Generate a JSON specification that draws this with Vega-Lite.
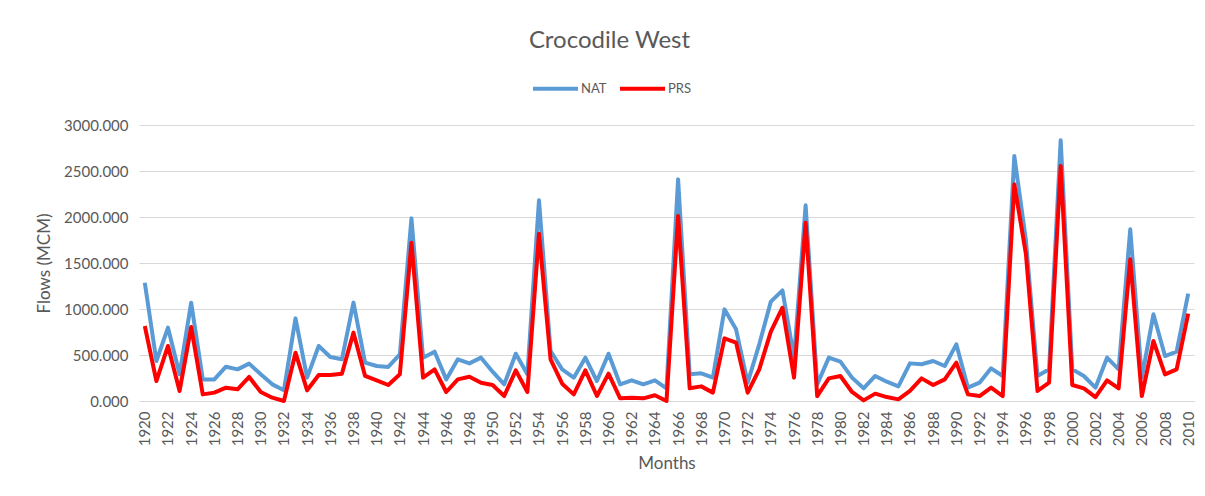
{
  "$schema": "https://vega.github.io/schema/vega-lite/v6.json",
  "width": 1055,
  "height": 276,
  "autosize": "none",
  "padding": {"left": 139, "top": 125, "right": 11, "bottom": 95},
  "background": "white",
  "config": {
    "font": "Lato",
    "view": {"stroke": null}
  },
  "title": {
    "text": "Crocodile West",
    "fontSize": 24,
    "fontWeight": "normal",
    "color": "#595959",
    "font": "Lato",
    "anchor": "middle",
    "dx": -57,
    "offset": 11
  },
  "data": {
    "values": [
      {"year":1920,"series":"NAT","value":1286},{"year":1921,"series":"NAT","value":435},{"year":1922,"series":"NAT","value":797},{"year":1923,"series":"NAT","value":290},{"year":1924,"series":"NAT","value":1069},{"year":1925,"series":"NAT","value":235},{"year":1926,"series":"NAT","value":235},{"year":1927,"series":"NAT","value":373},{"year":1928,"series":"NAT","value":344},{"year":1929,"series":"NAT","value":406},{"year":1930,"series":"NAT","value":290},{"year":1931,"series":"NAT","value":181},{"year":1932,"series":"NAT","value":116},{"year":1933,"series":"NAT","value":898},{"year":1934,"series":"NAT","value":254},{"year":1935,"series":"NAT","value":598},{"year":1936,"series":"NAT","value":478},{"year":1937,"series":"NAT","value":453},{"year":1938,"series":"NAT","value":1069},{"year":1939,"series":"NAT","value":417},{"year":1940,"series":"NAT","value":380},{"year":1941,"series":"NAT","value":370},{"year":1942,"series":"NAT","value":507},{"year":1943,"series":"NAT","value":1985},{"year":1944,"series":"NAT","value":471},{"year":1945,"series":"NAT","value":536},{"year":1946,"series":"NAT","value":235},{"year":1947,"series":"NAT","value":453},{"year":1948,"series":"NAT","value":409},{"year":1949,"series":"NAT","value":471},{"year":1950,"series":"NAT","value":319},{"year":1951,"series":"NAT","value":181},{"year":1952,"series":"NAT","value":514},{"year":1953,"series":"NAT","value":290},{"year":1954,"series":"NAT","value":2181},{"year":1955,"series":"NAT","value":543},{"year":1956,"series":"NAT","value":344},{"year":1957,"series":"NAT","value":254},{"year":1958,"series":"NAT","value":471},{"year":1959,"series":"NAT","value":217},{"year":1960,"series":"NAT","value":514},{"year":1961,"series":"NAT","value":181},{"year":1962,"series":"NAT","value":225},{"year":1963,"series":"NAT","value":181},{"year":1964,"series":"NAT","value":225},{"year":1965,"series":"NAT","value":138},{"year":1966,"series":"NAT","value":2409},{"year":1967,"series":"NAT","value":290},{"year":1968,"series":"NAT","value":301},{"year":1969,"series":"NAT","value":254},{"year":1970,"series":"NAT","value":996},{"year":1971,"series":"NAT","value":779},{"year":1972,"series":"NAT","value":199},{"year":1973,"series":"NAT","value":616},{"year":1974,"series":"NAT","value":1080},{"year":1975,"series":"NAT","value":1203},{"year":1976,"series":"NAT","value":471},{"year":1977,"series":"NAT","value":2127},{"year":1978,"series":"NAT","value":181},{"year":1979,"series":"NAT","value":471},{"year":1980,"series":"NAT","value":428},{"year":1981,"series":"NAT","value":254},{"year":1982,"series":"NAT","value":138},{"year":1983,"series":"NAT","value":272},{"year":1984,"series":"NAT","value":210},{"year":1985,"series":"NAT","value":159},{"year":1986,"series":"NAT","value":409},{"year":1987,"series":"NAT","value":399},{"year":1988,"series":"NAT","value":435},{"year":1989,"series":"NAT","value":380},{"year":1990,"series":"NAT","value":616},{"year":1991,"series":"NAT","value":145},{"year":1992,"series":"NAT","value":199},{"year":1993,"series":"NAT","value":355},{"year":1994,"series":"NAT","value":272},{"year":1995,"series":"NAT","value":2663},{"year":1996,"series":"NAT","value":1750},{"year":1997,"series":"NAT","value":272},{"year":1998,"series":"NAT","value":344},{"year":1999,"series":"NAT","value":2833},{"year":2000,"series":"NAT","value":344},{"year":2001,"series":"NAT","value":272},{"year":2002,"series":"NAT","value":145},{"year":2003,"series":"NAT","value":471},{"year":2004,"series":"NAT","value":344},{"year":2005,"series":"NAT","value":1866},{"year":2006,"series":"NAT","value":254},{"year":2007,"series":"NAT","value":942},{"year":2008,"series":"NAT","value":489},{"year":2009,"series":"NAT","value":536},{"year":2010,"series":"NAT","value":1167},
      {"year":1920,"series":"PRS","value":815},{"year":1921,"series":"PRS","value":217},{"year":1922,"series":"PRS","value":598},{"year":1923,"series":"PRS","value":109},{"year":1924,"series":"PRS","value":804},{"year":1925,"series":"PRS","value":72},{"year":1926,"series":"PRS","value":91},{"year":1927,"series":"PRS","value":145},{"year":1928,"series":"PRS","value":127},{"year":1929,"series":"PRS","value":261},{"year":1930,"series":"PRS","value":98},{"year":1931,"series":"PRS","value":36},{"year":1932,"series":"PRS","value":0},{"year":1933,"series":"PRS","value":525},{"year":1934,"series":"PRS","value":116},{"year":1935,"series":"PRS","value":283},{"year":1936,"series":"PRS","value":283},{"year":1937,"series":"PRS","value":297},{"year":1938,"series":"PRS","value":743},{"year":1939,"series":"PRS","value":272},{"year":1940,"series":"PRS","value":225},{"year":1941,"series":"PRS","value":174},{"year":1942,"series":"PRS","value":290},{"year":1943,"series":"PRS","value":1721},{"year":1944,"series":"PRS","value":254},{"year":1945,"series":"PRS","value":344},{"year":1946,"series":"PRS","value":98},{"year":1947,"series":"PRS","value":235},{"year":1948,"series":"PRS","value":264},{"year":1949,"series":"PRS","value":199},{"year":1950,"series":"PRS","value":174},{"year":1951,"series":"PRS","value":54},{"year":1952,"series":"PRS","value":333},{"year":1953,"series":"PRS","value":98},{"year":1954,"series":"PRS","value":1819},{"year":1955,"series":"PRS","value":453},{"year":1956,"series":"PRS","value":188},{"year":1957,"series":"PRS","value":72},{"year":1958,"series":"PRS","value":333},{"year":1959,"series":"PRS","value":54},{"year":1960,"series":"PRS","value":297},{"year":1961,"series":"PRS","value":29},{"year":1962,"series":"PRS","value":36},{"year":1963,"series":"PRS","value":29},{"year":1964,"series":"PRS","value":62},{"year":1965,"series":"PRS","value":0},{"year":1966,"series":"PRS","value":2011},{"year":1967,"series":"PRS","value":138},{"year":1968,"series":"PRS","value":159},{"year":1969,"series":"PRS","value":91},{"year":1970,"series":"PRS","value":681},{"year":1971,"series":"PRS","value":634},{"year":1972,"series":"PRS","value":91},{"year":1973,"series":"PRS","value":344},{"year":1974,"series":"PRS","value":754},{"year":1975,"series":"PRS","value":1014},{"year":1976,"series":"PRS","value":254},{"year":1977,"series":"PRS","value":1938},{"year":1978,"series":"PRS","value":54},{"year":1979,"series":"PRS","value":246},{"year":1980,"series":"PRS","value":272},{"year":1981,"series":"PRS","value":98},{"year":1982,"series":"PRS","value":7},{"year":1983,"series":"PRS","value":80},{"year":1984,"series":"PRS","value":43},{"year":1985,"series":"PRS","value":18},{"year":1986,"series":"PRS","value":109},{"year":1987,"series":"PRS","value":246},{"year":1988,"series":"PRS","value":174},{"year":1989,"series":"PRS","value":235},{"year":1990,"series":"PRS","value":417},{"year":1991,"series":"PRS","value":72},{"year":1992,"series":"PRS","value":54},{"year":1993,"series":"PRS","value":145},{"year":1994,"series":"PRS","value":54},{"year":1995,"series":"PRS","value":2355},{"year":1996,"series":"PRS","value":1600},{"year":1997,"series":"PRS","value":109},{"year":1998,"series":"PRS","value":199},{"year":1999,"series":"PRS","value":2554},{"year":2000,"series":"PRS","value":174},{"year":2001,"series":"PRS","value":138},{"year":2002,"series":"PRS","value":43},{"year":2003,"series":"PRS","value":225},{"year":2004,"series":"PRS","value":138},{"year":2005,"series":"PRS","value":1540},{"year":2006,"series":"PRS","value":54},{"year":2007,"series":"PRS","value":652},{"year":2008,"series":"PRS","value":290},{"year":2009,"series":"PRS","value":344},{"year":2010,"series":"PRS","value":949}
    ]
  },
  "mark": {"type": "line", "strokeWidth": 4, "strokeJoin": "round", "clip": false},
  "encoding": {
    "x": {
      "field": "year",
      "type": "quantitative",
      "scale": {"domain": [1919.5, 2010.5], "nice": false, "zero": false},
      "axis": {
        "title": "Months",
        "titleFontSize": 17,
        "titleFontWeight": "normal",
        "titleColor": "#595959",
        "titlePadding": 10,
        "values": [1920,1922,1924,1926,1928,1930,1932,1934,1936,1938,1940,1942,1944,1946,1948,1950,1952,1954,1956,1958,1960,1962,1964,1966,1968,1970,1972,1974,1976,1978,1980,1982,1984,1986,1988,1990,1992,1994,1996,1998,2000,2002,2004,2006,2008,2010],
        "format": "d",
        "labelAngle": -90,
        "labelFontSize": 15,
        "labelColor": "#595959",
        "labelPadding": 10,
        "labelOverlap": false,
        "labelFlush": false,
        "ticks": false,
        "grid": false,
        "domainColor": "#d9d9d9",
        "domainWidth": 1
      }
    },
    "y": {
      "field": "value",
      "type": "quantitative",
      "scale": {"domain": [0, 3000], "nice": false},
      "axis": {
        "title": "Flows (MCM)",
        "titleFontSize": 17,
        "titleFontWeight": "normal",
        "titleColor": "#595959",
        "titlePadding": 10,
        "values": [0, 500, 1000, 1500, 2000, 2500, 3000],
        "format": ".3f",
        "labelFontSize": 15,
        "labelColor": "#595959",
        "labelPadding": 11,
        "ticks": false,
        "domain": false,
        "gridColor": "#d9d9d9",
        "gridWidth": 1
      }
    },
    "color": {
      "field": "series",
      "type": "nominal",
      "scale": {"domain": ["NAT", "PRS"], "range": ["#5B9BD5", "#FF0000"]},
      "legend": {
        "title": null,
        "orient": "none",
        "direction": "horizontal",
        "legendX": 392,
        "legendY": -61,
        "symbolType": "stroke",
        "symbolStrokeWidth": 4,
        "symbolSize": 2025,
        "labelFontSize": 13,
        "labelColor": "#595959",
        "columnPadding": 5,
        "labelOffset": 1
      }
    }
  }
}
